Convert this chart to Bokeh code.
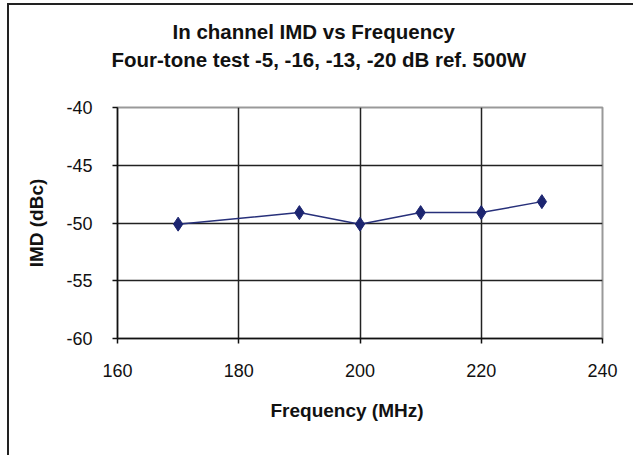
from bokeh.plotting import figure
from bokeh.models import Range1d, FixedTicker, Title
from bokeh.embed import file_html
from bokeh.resources import INLINE

freq_mhz = [170, 190, 200, 210, 220, 230]
imd_dbc = [-50.1, -49.1, -50.1, -49.1, -49.1, -48.15]
x_ticks = [160, 180, 200, 220, 240]
y_ticks = [-60, -55, -50, -45, -40]
title_line1 = "In channel IMD vs Frequency"
title_line2 = "Four-tone test -5, -16, -13, -20  dB ref. 500W"
x_label = "Frequency (MHz)"
y_label = "IMD (dBc)"

FONT = "Liberation Sans"

p = figure(width=626, height=452, output_backend="svg", toolbar_location=None,
           x_range=Range1d(160, 240), y_range=Range1d(-60, -40),
           min_border_left=108, min_border_right=33, min_border_top=102, min_border_bottom=119)
p.styles = {"margin-left": "7px", "margin-top": "3px",
            "border-left": "2px solid #222", "border-top": "2px solid #222"}
p.background_fill_color = "white"
p.border_fill_color = "white"
p.outline_line_color = "#999999"
p.outline_line_width = 2

p.xaxis.ticker = FixedTicker(ticks=x_ticks)
p.yaxis.ticker = FixedTicker(ticks=y_ticks)
p.yaxis.major_label_overrides = {t: str(t) for t in y_ticks}
p.xgrid.ticker = FixedTicker(ticks=x_ticks[1:-1])
p.ygrid.ticker = FixedTicker(ticks=y_ticks[1:-1])
for g in (p.xgrid, p.ygrid):
    g.grid_line_color = "#222222"
    g.grid_line_width = 1.5

for ax in (p.xaxis, p.yaxis):
    ax.axis_line_color = "#111111"
    ax.axis_line_width = 1.5
    ax.major_tick_line_color = "#111111"
    ax.major_tick_line_width = 1.5
    ax.minor_tick_line_color = None
    ax.major_tick_in = 0
    ax.major_tick_out = 5
    ax.major_label_text_font = FONT
    ax.major_label_text_font_size = "18px"
    ax.major_label_text_color = "#111111"
    ax.axis_label_text_font = FONT
    ax.axis_label_text_font_style = "bold"
    ax.axis_label_text_font_size = "19px"
    ax.axis_label_text_color = "#111111"

p.yaxis.axis_label = y_label
p.xaxis.major_label_standoff = 20
p.yaxis.major_label_standoff = 20
p.yaxis.axis_label_standoff = 16

p.add_layout(Title(text=x_label, align="left", offset=153, standoff=36,
                   text_font=FONT, text_font_style="bold", text_font_size="19px",
                   text_color="#111111"), "below")

# spacer between the frame and the two title lines
p.add_layout(Title(text=" ", standoff=22, text_font=FONT, text_font_size="10px",
                   text_color="white"), "above")
p.add_layout(Title(text=title_line2, align="left", offset=-6, standoff=4,
                   text_font=FONT, text_font_style="bold", text_font_size="20.5px",
                   text_color="#111111"), "above")
p.add_layout(Title(text=title_line1, align="left", offset=55, standoff=2,
                   text_font=FONT, text_font_style="bold", text_font_size="20.5px",
                   text_color="#111111"), "above")

p.line(freq_mhz, imd_dbc, line_color="#27307a", line_width=1.5)
p.scatter(freq_mhz, imd_dbc, marker="diamond", size=14, fill_color="#1c2570", line_color="#1c2570")

open("out.html", "w").write(file_html(p, INLINE))
